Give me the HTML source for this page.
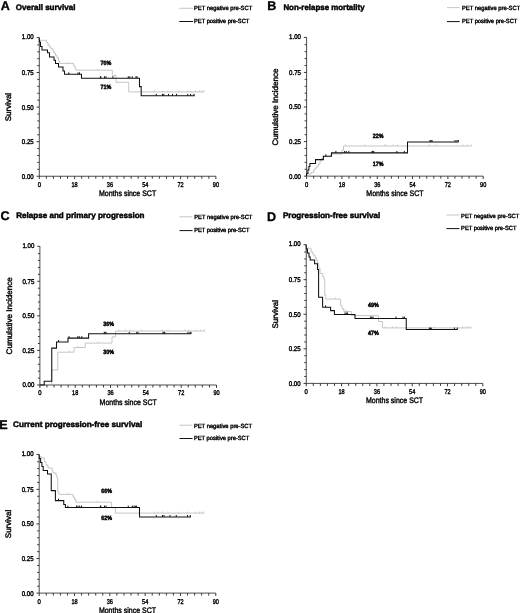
<!DOCTYPE html>
<html>
<head>
<meta charset="utf-8">
<title>Survival curves</title>
<style>
html,body{margin:0;padding:0;background:#fff;}
body{width:520px;height:613px;overflow:hidden;font-family:"Liberation Sans", sans-serif;}
svg{display:block;font-family:"Liberation Sans", sans-serif;}
svg text{font-family:"Liberation Sans", sans-serif;stroke:#000;stroke-width:0.4px;}
svg{filter:blur(0.4px);}
</style>
</head>
<body>
<svg width="520" height="613" viewBox="0 0 520 613" text-rendering="geometricPrecision">
<rect x="0" y="0" width="520" height="613" fill="#ffffff"/>
<text x="0.80" y="9.60" font-size="12.6" font-weight="bold" fill="#000" style="stroke-width:0.3px">A</text>
<text x="15.80" y="9.60" font-size="8" font-weight="bold" fill="#000" style="stroke-width:0.45px" textLength="59.6" lengthAdjust="spacingAndGlyphs">Overall survival</text>
<line x1="179.30" x2="193.00" y1="8.30" y2="8.30" stroke="#b8b8b8" stroke-width="0.8"/>
<line x1="179.30" x2="193.00" y1="21.50" y2="21.50" stroke="#111" stroke-width="1.0"/>
<text x="194.00" y="10.20" font-size="6" fill="#111" textLength="58.2" lengthAdjust="spacingAndGlyphs">PET negative pre-SCT</text>
<text x="194.00" y="23.10" font-size="6" fill="#111" textLength="55.3" lengthAdjust="spacingAndGlyphs">PET positive pre-SCT</text>
<path d="M39.30,37.35 V176.25 H215.90" fill="none" stroke="#2e2e2e" stroke-width="0.85"/>
<path d="M39.30,176.25 h-2.70 M39.30,169.34 h-2.00 M39.30,162.42 h-2.00 M39.30,155.50 h-2.00 M39.30,148.59 h-2.00 M39.30,141.68 h-2.70 M39.30,134.76 h-2.00 M39.30,127.84 h-2.00 M39.30,120.93 h-2.00 M39.30,114.02 h-2.00 M39.30,107.10 h-2.70 M39.30,100.18 h-2.00 M39.30,93.27 h-2.00 M39.30,86.35 h-2.00 M39.30,79.44 h-2.00 M39.30,72.53 h-2.70 M39.30,65.61 h-2.00 M39.30,58.69 h-2.00 M39.30,51.78 h-2.00 M39.30,44.86 h-2.00 M39.30,37.55 h-2.70 M39.30,176.25 v2.90 M46.36,176.25 v2.50 M53.43,176.25 v2.50 M60.49,176.25 v2.50 M67.56,176.25 v2.50 M74.62,176.25 v2.90 M81.68,176.25 v2.50 M88.75,176.25 v2.50 M95.81,176.25 v2.50 M102.88,176.25 v2.50 M109.94,176.25 v2.90 M117.00,176.25 v2.50 M124.07,176.25 v2.50 M131.13,176.25 v2.50 M138.20,176.25 v2.50 M145.26,176.25 v2.90 M152.32,176.25 v2.50 M159.39,176.25 v2.50 M166.45,176.25 v2.50 M173.52,176.25 v2.50 M180.58,176.25 v2.90 M187.64,176.25 v2.50 M194.71,176.25 v2.50 M201.77,176.25 v2.50 M208.84,176.25 v2.50 M215.90,176.25 v2.90 " fill="none" stroke="#2e2e2e" stroke-width="0.95"/>
<text x="21.80" y="178.70" font-size="6.9" fill="#111" textLength="11.9" lengthAdjust="spacingAndGlyphs">0.00</text>
<text x="21.80" y="144.12" font-size="6.9" fill="#111" textLength="11.9" lengthAdjust="spacingAndGlyphs">0.25</text>
<text x="21.80" y="109.55" font-size="6.9" fill="#111" textLength="11.9" lengthAdjust="spacingAndGlyphs">0.50</text>
<text x="21.80" y="74.97" font-size="6.9" fill="#111" textLength="11.9" lengthAdjust="spacingAndGlyphs">0.75</text>
<text x="21.80" y="39.10" font-size="6.9" fill="#111" textLength="11.9" lengthAdjust="spacingAndGlyphs">1.00</text>
<text x="37.65" y="186.70" font-size="6.9" fill="#111" textLength="3.3" lengthAdjust="spacingAndGlyphs">0</text>
<text x="71.52" y="186.70" font-size="6.9" fill="#111" textLength="6.2" lengthAdjust="spacingAndGlyphs">18</text>
<text x="106.84" y="186.70" font-size="6.9" fill="#111" textLength="6.2" lengthAdjust="spacingAndGlyphs">36</text>
<text x="142.16" y="186.70" font-size="6.9" fill="#111" textLength="6.2" lengthAdjust="spacingAndGlyphs">54</text>
<text x="177.48" y="186.70" font-size="6.9" fill="#111" textLength="6.2" lengthAdjust="spacingAndGlyphs">72</text>
<text x="212.80" y="186.70" font-size="6.9" fill="#111" textLength="6.2" lengthAdjust="spacingAndGlyphs">90</text>
<text x="127.60" y="196.15" font-size="8" text-anchor="middle" fill="#111" textLength="57.2" lengthAdjust="spacingAndGlyphs">Months since SCT</text>
<text transform="translate(11.00,107.10) rotate(-90)" font-size="8" text-anchor="middle" fill="#111">Survival</text>
<path d="M39.3,37.9 V40.3 H46.5 V42.5 H48 V45 H49.5 V47 H51 V48.8 H53 V51 H54 V53 H55.5 V55.5 H57 V58 H58.5 V61 H59.7 V63.4 H73.5 V66 H75 V68.5 H76 V70.2 H112.3 V75.7 H116 V82.3 H128.75 V91.9 H204.4" fill="none" stroke="#b8b8b8" stroke-width="0.8"/>
<path d="M68.00,63.40 v-1.60 M97.50,70.20 v-1.60 M115.00,75.70 v-1.60 M154.40,91.90 v-1.60 M162.50,91.90 v-1.60 M168.00,91.90 v-1.60 M178.75,91.90 v-1.60 M187.50,91.90 v-1.60 M191.00,91.90 v-1.60 M195.60,91.90 v-1.60 M199.40,91.90 v-1.60 M201.90,91.90 v-1.60 M203.75,91.90 v-1.60 " fill="none" stroke="#b8b8b8" stroke-width="0.6"/>
<path d="M39.3,37.9 V42 H40.5 V46.5 H42 V50 H47.5 V52.7 H49.5 V56.9 H54 V60.2 H55.5 V63.4 H58.5 V66.9 H63 V70.9 H64.5 V74.3 H81.5 V78.2 H139.5 V86.6 H141.2 V95.75 H194.75" fill="none" stroke="#111" stroke-width="1.05"/>
<path d="M68.75,74.30 v-1.90 M78.00,74.30 v-1.90 M79.50,74.30 v-1.90 M100.40,78.20 v-1.90 M100.75,78.20 v-1.90 M104.50,78.20 v-1.90 M106.00,78.20 v-1.90 M112.90,78.20 v-1.90 M128.25,78.20 v-1.90 M129.75,78.20 v-1.90 M132.25,78.20 v-1.90 M136.00,78.20 v-1.90 M137.00,78.20 v-1.90 M156.30,95.75 v-1.90 M162.50,95.75 v-1.90 M163.75,95.75 v-1.90 M168.50,95.75 v-1.90 M172.50,95.75 v-1.90 M176.50,95.75 v-1.90 M187.75,95.75 v-1.90 M190.60,95.75 v-1.90 M194.00,95.75 v-1.90 " fill="none" stroke="#111" stroke-width="1.0"/>
<text x="100.40" y="64.70" font-size="6.2" font-weight="bold" fill="#111" style="stroke-width:0.5px" textLength="10.8" lengthAdjust="spacingAndGlyphs">76%</text>
<text x="100.40" y="89.30" font-size="6.2" font-weight="bold" fill="#111" style="stroke-width:0.5px" textLength="10.8" lengthAdjust="spacingAndGlyphs">71%</text>
<text x="267.20" y="10.20" font-size="12.6" font-weight="bold" fill="#000" style="stroke-width:0.3px">B</text>
<text x="283.40" y="9.60" font-size="8" font-weight="bold" fill="#000" style="stroke-width:0.45px" textLength="81.2" lengthAdjust="spacingAndGlyphs">Non-relapse mortality</text>
<line x1="447.00" x2="459.75" y1="7.60" y2="7.60" stroke="#b8b8b8" stroke-width="0.8"/>
<line x1="447.00" x2="459.75" y1="21.60" y2="21.60" stroke="#111" stroke-width="1.0"/>
<text x="462.00" y="10.00" font-size="6" fill="#111" textLength="58.2" lengthAdjust="spacingAndGlyphs">PET negative pre-SCT</text>
<text x="462.00" y="23.40" font-size="6" fill="#111" textLength="55.3" lengthAdjust="spacingAndGlyphs">PET positive pre-SCT</text>
<path d="M306.60,37.25 V176.15 H483.20" fill="none" stroke="#2e2e2e" stroke-width="0.85"/>
<path d="M306.60,176.15 h-2.70 M306.60,169.24 h-2.00 M306.60,162.32 h-2.00 M306.60,155.41 h-2.00 M306.60,148.49 h-2.00 M306.60,141.57 h-2.70 M306.60,134.66 h-2.00 M306.60,127.75 h-2.00 M306.60,120.83 h-2.00 M306.60,113.92 h-2.00 M306.60,107.00 h-2.70 M306.60,100.08 h-2.00 M306.60,93.17 h-2.00 M306.60,86.25 h-2.00 M306.60,79.34 h-2.00 M306.60,72.43 h-2.70 M306.60,65.51 h-2.00 M306.60,58.59 h-2.00 M306.60,51.68 h-2.00 M306.60,44.76 h-2.00 M306.60,37.45 h-2.70 M306.60,176.15 v2.90 M313.66,176.15 v2.50 M320.73,176.15 v2.50 M327.79,176.15 v2.50 M334.86,176.15 v2.50 M341.92,176.15 v2.90 M348.98,176.15 v2.50 M356.05,176.15 v2.50 M363.11,176.15 v2.50 M370.18,176.15 v2.50 M377.24,176.15 v2.90 M384.30,176.15 v2.50 M391.37,176.15 v2.50 M398.43,176.15 v2.50 M405.50,176.15 v2.50 M412.56,176.15 v2.90 M419.62,176.15 v2.50 M426.69,176.15 v2.50 M433.75,176.15 v2.50 M440.82,176.15 v2.50 M447.88,176.15 v2.90 M454.94,176.15 v2.50 M462.01,176.15 v2.50 M469.07,176.15 v2.50 M476.14,176.15 v2.50 M483.20,176.15 v2.90 " fill="none" stroke="#2e2e2e" stroke-width="0.95"/>
<text x="289.10" y="178.60" font-size="6.9" fill="#111" textLength="11.9" lengthAdjust="spacingAndGlyphs">0.00</text>
<text x="289.10" y="144.02" font-size="6.9" fill="#111" textLength="11.9" lengthAdjust="spacingAndGlyphs">0.25</text>
<text x="289.10" y="109.45" font-size="6.9" fill="#111" textLength="11.9" lengthAdjust="spacingAndGlyphs">0.50</text>
<text x="289.10" y="74.88" font-size="6.9" fill="#111" textLength="11.9" lengthAdjust="spacingAndGlyphs">0.75</text>
<text x="289.10" y="39.00" font-size="6.9" fill="#111" textLength="11.9" lengthAdjust="spacingAndGlyphs">1.00</text>
<text x="304.95" y="186.60" font-size="6.9" fill="#111" textLength="3.3" lengthAdjust="spacingAndGlyphs">0</text>
<text x="338.82" y="186.60" font-size="6.9" fill="#111" textLength="6.2" lengthAdjust="spacingAndGlyphs">18</text>
<text x="374.14" y="186.60" font-size="6.9" fill="#111" textLength="6.2" lengthAdjust="spacingAndGlyphs">36</text>
<text x="409.46" y="186.60" font-size="6.9" fill="#111" textLength="6.2" lengthAdjust="spacingAndGlyphs">54</text>
<text x="444.78" y="186.60" font-size="6.9" fill="#111" textLength="6.2" lengthAdjust="spacingAndGlyphs">72</text>
<text x="480.10" y="186.60" font-size="6.9" fill="#111" textLength="6.2" lengthAdjust="spacingAndGlyphs">90</text>
<text x="394.90" y="196.05" font-size="8" text-anchor="middle" fill="#111" textLength="57.2" lengthAdjust="spacingAndGlyphs">Months since SCT</text>
<text transform="translate(278.30,107.00) rotate(-90)" font-size="8" text-anchor="middle" fill="#111" textLength="77.2" lengthAdjust="spacingAndGlyphs">Cumulative Incidence</text>
<path d="M306.6,176.15 H309 V174 H311 V172.5 H313.5 V170 H315 V168 H317 V166 H318.5 V164 H320 V161 H321.5 V158.5 H323 V156.3 H331 V154 H342 V150 H343.5 V146 H471.5" fill="none" stroke="#b8b8b8" stroke-width="0.8"/>
<path d="M345.25,146.00 v-1.60 M364.60,146.00 v-1.60 M385.00,146.00 v-1.60 M386.00,146.00 v-1.60 M393.00,146.00 v-1.60 M397.50,146.00 v-1.60 M429.40,146.00 v-1.60 M435.60,146.00 v-1.60 M463.00,146.00 v-1.60 M467.50,146.00 v-1.60 M471.25,146.00 v-1.60 " fill="none" stroke="#b8b8b8" stroke-width="0.6"/>
<path d="M306.6,176.15 V173.5 H307.9 V170 H308.9 V166.5 H309.9 V163.5 H315.5 V159.6 H323.4 V156.25 H331.5 V152.85 H407.5 V141.9 H458.5" fill="none" stroke="#111" stroke-width="1.05"/>
<path d="M325.90,156.25 v-1.90 M335.90,152.85 v-1.90 M344.60,152.85 v-1.90 M346.25,152.85 v-1.90 M348.75,152.85 v-1.90 M372.00,152.85 v-1.90 M372.80,152.85 v-1.90 M373.70,152.85 v-1.90 M396.90,152.85 v-1.90 M404.40,152.85 v-1.90 M430.00,141.90 v-1.90 M431.00,141.90 v-1.90 M432.00,141.90 v-1.90 M455.00,141.90 v-1.90 M457.00,141.90 v-1.90 M458.30,141.90 v-1.90 " fill="none" stroke="#111" stroke-width="1.0"/>
<text x="372.75" y="137.70" font-size="6.2" font-weight="bold" fill="#111" style="stroke-width:0.5px" textLength="10.8" lengthAdjust="spacingAndGlyphs">22%</text>
<text x="372.75" y="165.80" font-size="6.2" font-weight="bold" fill="#111" style="stroke-width:0.5px" textLength="10.8" lengthAdjust="spacingAndGlyphs">17%</text>
<text x="0.60" y="220.10" font-size="12.6" font-weight="bold" fill="#000" style="stroke-width:0.3px">C</text>
<text x="16.25" y="218.40" font-size="8" font-weight="bold" fill="#000" style="stroke-width:0.45px" textLength="128.3" lengthAdjust="spacingAndGlyphs">Relapse and primary progression</text>
<line x1="179.50" x2="192.50" y1="216.80" y2="216.80" stroke="#b8b8b8" stroke-width="0.8"/>
<line x1="179.50" x2="192.50" y1="230.60" y2="230.60" stroke="#111" stroke-width="1.0"/>
<text x="194.20" y="219.20" font-size="6" fill="#111" textLength="58.2" lengthAdjust="spacingAndGlyphs">PET negative pre-SCT</text>
<text x="194.20" y="232.30" font-size="6" fill="#111" textLength="55.3" lengthAdjust="spacingAndGlyphs">PET positive pre-SCT</text>
<path d="M39.90,246.10 V385.00 H216.50" fill="none" stroke="#2e2e2e" stroke-width="0.85"/>
<path d="M39.90,385.00 h-2.70 M39.90,378.08 h-2.00 M39.90,371.17 h-2.00 M39.90,364.25 h-2.00 M39.90,357.34 h-2.00 M39.90,350.43 h-2.70 M39.90,343.51 h-2.00 M39.90,336.59 h-2.00 M39.90,329.68 h-2.00 M39.90,322.76 h-2.00 M39.90,315.85 h-2.70 M39.90,308.94 h-2.00 M39.90,302.02 h-2.00 M39.90,295.11 h-2.00 M39.90,288.19 h-2.00 M39.90,281.27 h-2.70 M39.90,274.36 h-2.00 M39.90,267.44 h-2.00 M39.90,260.53 h-2.00 M39.90,253.61 h-2.00 M39.90,246.30 h-2.70 M39.90,385.00 v2.90 M46.96,385.00 v2.50 M54.03,385.00 v2.50 M61.09,385.00 v2.50 M68.16,385.00 v2.50 M75.22,385.00 v2.90 M82.28,385.00 v2.50 M89.35,385.00 v2.50 M96.41,385.00 v2.50 M103.48,385.00 v2.50 M110.54,385.00 v2.90 M117.60,385.00 v2.50 M124.67,385.00 v2.50 M131.73,385.00 v2.50 M138.80,385.00 v2.50 M145.86,385.00 v2.90 M152.92,385.00 v2.50 M159.99,385.00 v2.50 M167.05,385.00 v2.50 M174.12,385.00 v2.50 M181.18,385.00 v2.90 M188.24,385.00 v2.50 M195.31,385.00 v2.50 M202.37,385.00 v2.50 M209.44,385.00 v2.50 M216.50,385.00 v2.90 " fill="none" stroke="#2e2e2e" stroke-width="0.95"/>
<text x="22.40" y="387.45" font-size="6.9" fill="#111" textLength="11.9" lengthAdjust="spacingAndGlyphs">0.00</text>
<text x="22.40" y="352.88" font-size="6.9" fill="#111" textLength="11.9" lengthAdjust="spacingAndGlyphs">0.25</text>
<text x="22.40" y="318.30" font-size="6.9" fill="#111" textLength="11.9" lengthAdjust="spacingAndGlyphs">0.50</text>
<text x="22.40" y="283.72" font-size="6.9" fill="#111" textLength="11.9" lengthAdjust="spacingAndGlyphs">0.75</text>
<text x="22.40" y="247.85" font-size="6.9" fill="#111" textLength="11.9" lengthAdjust="spacingAndGlyphs">1.00</text>
<text x="38.25" y="395.45" font-size="6.9" fill="#111" textLength="3.3" lengthAdjust="spacingAndGlyphs">0</text>
<text x="72.12" y="395.45" font-size="6.9" fill="#111" textLength="6.2" lengthAdjust="spacingAndGlyphs">18</text>
<text x="107.44" y="395.45" font-size="6.9" fill="#111" textLength="6.2" lengthAdjust="spacingAndGlyphs">36</text>
<text x="142.76" y="395.45" font-size="6.9" fill="#111" textLength="6.2" lengthAdjust="spacingAndGlyphs">54</text>
<text x="178.08" y="395.45" font-size="6.9" fill="#111" textLength="6.2" lengthAdjust="spacingAndGlyphs">72</text>
<text x="213.40" y="395.45" font-size="6.9" fill="#111" textLength="6.2" lengthAdjust="spacingAndGlyphs">90</text>
<text x="128.20" y="404.90" font-size="8" text-anchor="middle" fill="#111" textLength="57.2" lengthAdjust="spacingAndGlyphs">Months since SCT</text>
<text transform="translate(11.60,315.85) rotate(-90)" font-size="8" text-anchor="middle" fill="#111" textLength="77.2" lengthAdjust="spacingAndGlyphs">Cumulative Incidence</text>
<path d="M51.75,384.5 V370 H57.75 V352.2 H74 V347.5 H85.25 V343.1 H112 V336.9 H115.5 V331 H205" fill="none" stroke="#b8b8b8" stroke-width="0.8"/>
<path d="M69.25,352.20 v-1.60 M78.00,347.50 v-1.60 M98.00,343.10 v-1.60 M118.60,331.00 v-1.60 M125.50,331.00 v-1.60 M130.75,331.00 v-1.60 M141.00,331.00 v-1.60 M162.40,331.00 v-1.60 M168.00,331.00 v-1.60 M185.00,331.00 v-1.60 M188.75,331.00 v-1.60 M196.25,331.00 v-1.60 M200.60,331.00 v-1.60 M204.40,331.00 v-1.60 " fill="none" stroke="#b8b8b8" stroke-width="0.6"/>
<path d="M39.9,385 H44.2 V381.25 H51.75 V348.1 H56.5 V341.9 H68 V338.1 H88.6 V333.75 H191.25" fill="none" stroke="#111" stroke-width="1.05"/>
<path d="M58.60,341.90 v-1.90 M69.00,338.10 v-1.90 M77.75,338.10 v-1.90 M79.25,338.10 v-1.90 M81.75,338.10 v-1.90 M104.25,333.75 v-1.90 M105.10,333.75 v-1.90 M106.00,333.75 v-1.90 M129.25,333.75 v-1.90 M136.75,333.75 v-1.90 M138.00,333.75 v-1.90 M163.00,333.75 v-1.90 M164.00,333.75 v-1.90 M164.75,333.75 v-1.90 M188.00,333.75 v-1.90 M190.00,333.75 v-1.90 M191.00,333.75 v-1.90 " fill="none" stroke="#111" stroke-width="1.0"/>
<text x="103.25" y="326.00" font-size="6.2" font-weight="bold" fill="#111" style="stroke-width:0.5px" textLength="10.8" lengthAdjust="spacingAndGlyphs">36%</text>
<text x="103.25" y="353.50" font-size="6.2" font-weight="bold" fill="#111" style="stroke-width:0.5px" textLength="10.8" lengthAdjust="spacingAndGlyphs">30%</text>
<text x="267.00" y="221.20" font-size="12.6" font-weight="bold" fill="#000" style="stroke-width:0.3px">D</text>
<text x="282.90" y="218.10" font-size="8" font-weight="bold" fill="#000" style="stroke-width:0.45px" textLength="97.4" lengthAdjust="spacingAndGlyphs">Progression-free survival</text>
<line x1="446.40" x2="459.40" y1="215.00" y2="215.00" stroke="#b8b8b8" stroke-width="0.8"/>
<line x1="446.40" x2="459.40" y1="228.60" y2="228.60" stroke="#111" stroke-width="1.0"/>
<text x="461.10" y="217.50" font-size="6" fill="#111" textLength="58.2" lengthAdjust="spacingAndGlyphs">PET negative pre-SCT</text>
<text x="461.10" y="230.30" font-size="6" fill="#111" textLength="55.3" lengthAdjust="spacingAndGlyphs">PET positive pre-SCT</text>
<path d="M306.25,244.50 V383.40 H482.85" fill="none" stroke="#2e2e2e" stroke-width="0.85"/>
<path d="M306.25,383.40 h-2.70 M306.25,376.48 h-2.00 M306.25,369.57 h-2.00 M306.25,362.65 h-2.00 M306.25,355.74 h-2.00 M306.25,348.82 h-2.70 M306.25,341.91 h-2.00 M306.25,334.99 h-2.00 M306.25,328.08 h-2.00 M306.25,321.16 h-2.00 M306.25,314.25 h-2.70 M306.25,307.33 h-2.00 M306.25,300.42 h-2.00 M306.25,293.50 h-2.00 M306.25,286.59 h-2.00 M306.25,279.67 h-2.70 M306.25,272.76 h-2.00 M306.25,265.84 h-2.00 M306.25,258.93 h-2.00 M306.25,252.01 h-2.00 M306.25,244.70 h-2.70 M306.25,383.40 v2.90 M313.31,383.40 v2.50 M320.38,383.40 v2.50 M327.44,383.40 v2.50 M334.51,383.40 v2.50 M341.57,383.40 v2.90 M348.63,383.40 v2.50 M355.70,383.40 v2.50 M362.76,383.40 v2.50 M369.83,383.40 v2.50 M376.89,383.40 v2.90 M383.95,383.40 v2.50 M391.02,383.40 v2.50 M398.08,383.40 v2.50 M405.15,383.40 v2.50 M412.21,383.40 v2.90 M419.27,383.40 v2.50 M426.34,383.40 v2.50 M433.40,383.40 v2.50 M440.47,383.40 v2.50 M447.53,383.40 v2.90 M454.59,383.40 v2.50 M461.66,383.40 v2.50 M468.72,383.40 v2.50 M475.79,383.40 v2.50 M482.85,383.40 v2.90 " fill="none" stroke="#2e2e2e" stroke-width="0.95"/>
<text x="288.75" y="385.85" font-size="6.9" fill="#111" textLength="11.9" lengthAdjust="spacingAndGlyphs">0.00</text>
<text x="288.75" y="351.27" font-size="6.9" fill="#111" textLength="11.9" lengthAdjust="spacingAndGlyphs">0.25</text>
<text x="288.75" y="316.70" font-size="6.9" fill="#111" textLength="11.9" lengthAdjust="spacingAndGlyphs">0.50</text>
<text x="288.75" y="282.12" font-size="6.9" fill="#111" textLength="11.9" lengthAdjust="spacingAndGlyphs">0.75</text>
<text x="288.75" y="246.25" font-size="6.9" fill="#111" textLength="11.9" lengthAdjust="spacingAndGlyphs">1.00</text>
<text x="304.60" y="393.85" font-size="6.9" fill="#111" textLength="3.3" lengthAdjust="spacingAndGlyphs">0</text>
<text x="338.47" y="393.85" font-size="6.9" fill="#111" textLength="6.2" lengthAdjust="spacingAndGlyphs">18</text>
<text x="373.79" y="393.85" font-size="6.9" fill="#111" textLength="6.2" lengthAdjust="spacingAndGlyphs">36</text>
<text x="409.11" y="393.85" font-size="6.9" fill="#111" textLength="6.2" lengthAdjust="spacingAndGlyphs">54</text>
<text x="444.43" y="393.85" font-size="6.9" fill="#111" textLength="6.2" lengthAdjust="spacingAndGlyphs">72</text>
<text x="479.75" y="393.85" font-size="6.9" fill="#111" textLength="6.2" lengthAdjust="spacingAndGlyphs">90</text>
<text x="394.55" y="403.30" font-size="8" text-anchor="middle" fill="#111" textLength="57.2" lengthAdjust="spacingAndGlyphs">Months since SCT</text>
<text transform="translate(277.95,314.25) rotate(-90)" font-size="8" text-anchor="middle" fill="#111">Survival</text>
<path d="M306.25,245.1 V248.2 H311 V252 H313 V255 H315 V257.5 H316.3 V260 H317.6 V263.2 H318.8 V268.6 H320.1 V273.4 H322.8 V277 H324 V279 H324.7 V295 H325.8 V299 H340.6 V305.6 H342 V308.5 H343.75 V311.5 H351.25 V315.6 H378.5 V321.5 H382.5 V327.9 H471.25" fill="none" stroke="#b8b8b8" stroke-width="0.8"/>
<path d="M335.50,299.00 v-1.60 M345.00,311.50 v-1.60 M347.00,311.50 v-1.60 M385.00,327.90 v-1.60 M392.50,327.90 v-1.60 M396.25,327.90 v-1.60 M434.40,327.90 v-1.60 M462.50,327.90 v-1.60 M466.25,327.90 v-1.60 M468.75,327.90 v-1.60 M471.00,327.90 v-1.60 " fill="none" stroke="#b8b8b8" stroke-width="0.6"/>
<path d="M306.25,245.1 V249 H307.5 V253 H309 V257 H310.2 V260 H314.6 V263.75 H317.5 V269.4 H318.6 V297.25 H322.6 V307.25 H330.6 V310.6 H334.4 V314.4 H355 V318.5 H406.25 V329.5 H457.75" fill="none" stroke="#111" stroke-width="1.05"/>
<path d="M325.60,307.25 v-1.90 M345.00,314.40 v-1.90 M346.30,314.40 v-1.90 M347.50,314.40 v-1.90 M370.60,318.50 v-1.90 M371.80,318.50 v-1.90 M373.00,318.50 v-1.90 M396.00,318.50 v-1.90 M403.00,318.50 v-1.90 M404.40,318.50 v-1.90 M429.40,329.50 v-1.90 M430.30,329.50 v-1.90 M431.25,329.50 v-1.90 M454.40,329.50 v-1.90 M457.25,329.50 v-1.90 " fill="none" stroke="#111" stroke-width="1.0"/>
<text x="368.10" y="306.70" font-size="6.2" font-weight="bold" fill="#111" style="stroke-width:0.5px" textLength="10.8" lengthAdjust="spacingAndGlyphs">49%</text>
<text x="368.10" y="334.50" font-size="6.2" font-weight="bold" fill="#111" style="stroke-width:0.5px" textLength="10.8" lengthAdjust="spacingAndGlyphs">47%</text>
<text x="-0.70" y="428.50" font-size="12.6" font-weight="bold" fill="#000" style="stroke-width:0.3px">E</text>
<text x="13.10" y="426.90" font-size="8" font-weight="bold" fill="#000" style="stroke-width:0.45px" textLength="129.1" lengthAdjust="spacingAndGlyphs">Current progression-free survival</text>
<line x1="179.50" x2="192.50" y1="425.20" y2="425.20" stroke="#b8b8b8" stroke-width="0.8"/>
<line x1="179.50" x2="192.50" y1="438.50" y2="438.50" stroke="#111" stroke-width="1.0"/>
<text x="193.90" y="427.60" font-size="6" fill="#111" textLength="58.2" lengthAdjust="spacingAndGlyphs">PET negative pre-SCT</text>
<text x="193.90" y="440.30" font-size="6" fill="#111" textLength="55.3" lengthAdjust="spacingAndGlyphs">PET positive pre-SCT</text>
<path d="M39.20,454.20 V593.10 H215.80" fill="none" stroke="#2e2e2e" stroke-width="0.85"/>
<path d="M39.20,593.10 h-2.70 M39.20,586.19 h-2.00 M39.20,579.27 h-2.00 M39.20,572.36 h-2.00 M39.20,565.44 h-2.00 M39.20,558.52 h-2.70 M39.20,551.61 h-2.00 M39.20,544.70 h-2.00 M39.20,537.78 h-2.00 M39.20,530.87 h-2.00 M39.20,523.95 h-2.70 M39.20,517.03 h-2.00 M39.20,510.12 h-2.00 M39.20,503.21 h-2.00 M39.20,496.29 h-2.00 M39.20,489.38 h-2.70 M39.20,482.46 h-2.00 M39.20,475.55 h-2.00 M39.20,468.63 h-2.00 M39.20,461.72 h-2.00 M39.20,454.40 h-2.70 M39.20,593.10 v2.90 M46.26,593.10 v2.50 M53.33,593.10 v2.50 M60.39,593.10 v2.50 M67.46,593.10 v2.50 M74.52,593.10 v2.90 M81.58,593.10 v2.50 M88.65,593.10 v2.50 M95.71,593.10 v2.50 M102.78,593.10 v2.50 M109.84,593.10 v2.90 M116.90,593.10 v2.50 M123.97,593.10 v2.50 M131.03,593.10 v2.50 M138.10,593.10 v2.50 M145.16,593.10 v2.90 M152.22,593.10 v2.50 M159.29,593.10 v2.50 M166.35,593.10 v2.50 M173.42,593.10 v2.50 M180.48,593.10 v2.90 M187.54,593.10 v2.50 M194.61,593.10 v2.50 M201.67,593.10 v2.50 M208.74,593.10 v2.50 M215.80,593.10 v2.90 " fill="none" stroke="#2e2e2e" stroke-width="0.95"/>
<text x="21.70" y="595.55" font-size="6.9" fill="#111" textLength="11.9" lengthAdjust="spacingAndGlyphs">0.00</text>
<text x="21.70" y="560.98" font-size="6.9" fill="#111" textLength="11.9" lengthAdjust="spacingAndGlyphs">0.25</text>
<text x="21.70" y="526.40" font-size="6.9" fill="#111" textLength="11.9" lengthAdjust="spacingAndGlyphs">0.50</text>
<text x="21.70" y="491.82" font-size="6.9" fill="#111" textLength="11.9" lengthAdjust="spacingAndGlyphs">0.75</text>
<text x="21.70" y="455.95" font-size="6.9" fill="#111" textLength="11.9" lengthAdjust="spacingAndGlyphs">1.00</text>
<text x="37.55" y="603.55" font-size="6.9" fill="#111" textLength="3.3" lengthAdjust="spacingAndGlyphs">0</text>
<text x="71.42" y="603.55" font-size="6.9" fill="#111" textLength="6.2" lengthAdjust="spacingAndGlyphs">18</text>
<text x="106.74" y="603.55" font-size="6.9" fill="#111" textLength="6.2" lengthAdjust="spacingAndGlyphs">36</text>
<text x="142.06" y="603.55" font-size="6.9" fill="#111" textLength="6.2" lengthAdjust="spacingAndGlyphs">54</text>
<text x="177.38" y="603.55" font-size="6.9" fill="#111" textLength="6.2" lengthAdjust="spacingAndGlyphs">72</text>
<text x="212.70" y="603.55" font-size="6.9" fill="#111" textLength="6.2" lengthAdjust="spacingAndGlyphs">90</text>
<text x="127.50" y="613.00" font-size="8" text-anchor="middle" fill="#111" textLength="57.2" lengthAdjust="spacingAndGlyphs">Months since SCT</text>
<text transform="translate(10.90,523.95) rotate(-90)" font-size="8" text-anchor="middle" fill="#111">Survival</text>
<path d="M39.2,454.8 V456.5 H41 V458 H44.5 V462 H46 V465 H48 V468 H52 V470.5 H53 V473 H56 V475.5 H57 V478 H57.7 V492 H59 V494.4 H73 V497 H74.5 V499.5 H76 V502.2 H111.6 V507.75 H115.4 V513.1 H204.4" fill="none" stroke="#b8b8b8" stroke-width="0.8"/>
<path d="M67.90,494.40 v-1.60 M97.25,502.20 v-1.60 M154.40,513.10 v-1.60 M158.00,513.10 v-1.60 M162.50,513.10 v-1.60 M168.00,513.10 v-1.60 M178.75,513.10 v-1.60 M187.50,513.10 v-1.60 M195.60,513.10 v-1.60 M199.40,513.10 v-1.60 M201.90,513.10 v-1.60 M203.75,513.10 v-1.60 " fill="none" stroke="#b8b8b8" stroke-width="0.6"/>
<path d="M39.2,454.8 V458.5 H40.6 V462.5 H41.9 V466.5 H43.2 V470.5 H47.5 V474 H51.25 V490.6 H55.4 V500.6 H63.75 V504.4 H65.4 V507.5 H139.5 V516.9 H191" fill="none" stroke="#111" stroke-width="1.05"/>
<path d="M58.50,500.60 v-1.90 M67.90,507.50 v-1.90 M76.60,507.50 v-1.90 M78.00,507.50 v-1.90 M79.75,507.50 v-1.90 M81.60,507.50 v-1.90 M100.40,507.50 v-1.90 M100.75,507.50 v-1.90 M104.50,507.50 v-1.90 M106.00,507.50 v-1.90 M128.25,507.50 v-1.90 M132.25,507.50 v-1.90 M134.00,507.50 v-1.90 M135.30,507.50 v-1.90 M136.60,507.50 v-1.90 M156.30,516.90 v-1.90 M162.50,516.90 v-1.90 M164.00,516.90 v-1.90 M170.00,516.90 v-1.90 M176.25,516.90 v-1.90 M187.50,516.90 v-1.90 M190.25,516.90 v-1.90 " fill="none" stroke="#111" stroke-width="1.0"/>
<text x="101.25" y="492.70" font-size="6.2" font-weight="bold" fill="#111" style="stroke-width:0.5px" textLength="10.8" lengthAdjust="spacingAndGlyphs">66%</text>
<text x="101.25" y="520.40" font-size="6.2" font-weight="bold" fill="#111" style="stroke-width:0.5px" textLength="10.8" lengthAdjust="spacingAndGlyphs">62%</text>
</svg>
</body>
</html>
